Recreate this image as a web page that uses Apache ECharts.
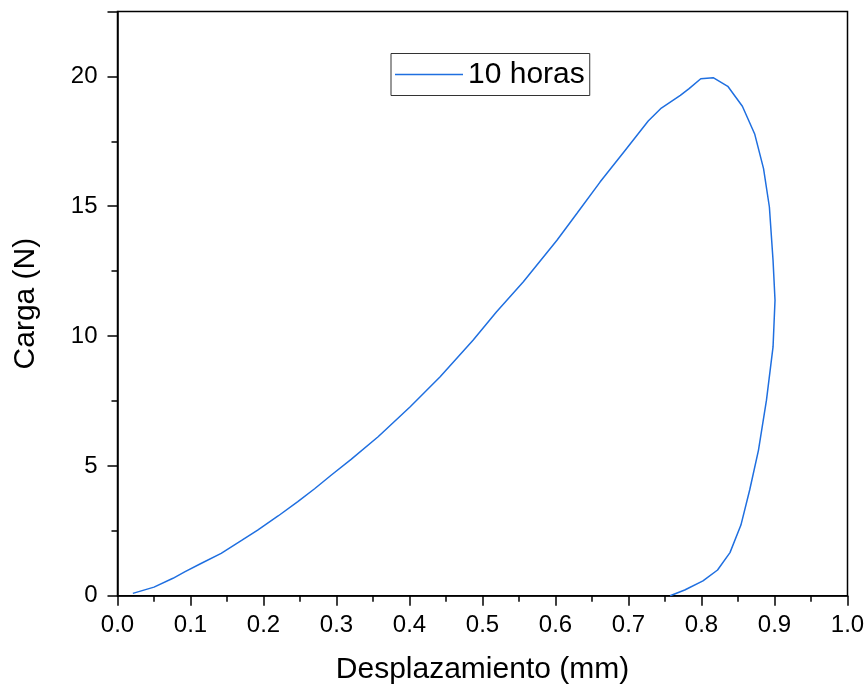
<!DOCTYPE html>
<html><head><meta charset="utf-8">
<script src="https://cdn.jsdelivr.net/npm/echarts@6/dist/echarts.min.js"></script>
<style>html,body{margin:0;padding:0;background:#fff}#c{width:867px;height:688px}</style>
</head><body><div id="c"></div>
<script>
const seriesName = '10 horas';
const xTitle = 'Desplazamiento (mm)';
const yTitle = 'Carga (N)';
const displacement = [0.021,0.05,0.076,0.092,0.115,0.142,0.17,0.192,0.22,0.247,0.27,0.293,0.32,0.357,0.401,0.442,0.487,0.519,0.556,0.602,0.63,0.661,0.695,0.727,0.745,0.771,0.783,0.799,0.816,0.836,0.856,0.873,0.885,0.893,0.898,0.9007,0.898,0.889,0.878,0.866,0.854,0.839,0.822,0.802,0.777,0.757];
const load = [0.09,0.33,0.67,0.92,1.25,1.63,2.13,2.53,3.07,3.62,4.12,4.65,5.25,6.12,7.28,8.43,9.84,10.93,12.09,13.69,14.75,15.93,17.14,18.28,18.78,19.27,19.53,19.91,19.95,19.62,18.85,17.77,16.45,14.97,12.92,11.38,9.58,7.53,5.6,4.07,2.72,1.66,0.99,0.57,0.22,0.0];
const data = displacement.map((x,i)=>[x,load[i]]);
const FONT = 'Liberation Sans, Arial, sans-serif';
const chart = echarts.init(document.getElementById('c'));
chart.setOption({
  animation:false,
  backgroundColor:'#fff',
  grid:{left:117.5,right:19.5,top:11.5,bottom:92.3,show:true,borderColor:'#000',borderWidth:1.5,backgroundColor:'transparent',outerBoundsMode:'none',containLabel:false},
  legend:{
    left:391,top:53.5,data:[{name:seriesName,icon:'rect'}],
    itemWidth:68,itemHeight:1.5,itemGap:13,
    borderColor:'#333',borderWidth:1,padding:[6,5,6,4],
    textStyle:{fontFamily:FONT,fontSize:30,color:'#000'}
  },
  xAxis:{
    type:'value',min:0,max:1,interval:0.1,
    name:xTitle,nameLocation:'middle',nameGap:59,
    nameTextStyle:{fontFamily:FONT,fontSize:30,color:'#000'},
    axisLine:{show:true,onZero:false,lineStyle:{color:'#000',width:1.5}},
    axisTick:{show:true,inside:false,length:10,lineStyle:{color:'#000',width:1.5}},
    minorTick:{show:true,splitNumber:2,length:6,lineStyle:{color:'#000',width:1.5}},
    splitLine:{show:false},
    axisLabel:{fontFamily:FONT,fontSize:24,color:'#000',margin:18,formatter:v=>v.toFixed(1)}
  },
  yAxis:{
    type:'value',min:0,max:22.5,interval:5,
    name:yTitle,nameLocation:'middle',nameGap:77,nameRotate:90,
    nameTextStyle:{fontFamily:FONT,fontSize:30,color:'#000'},
    axisLine:{show:true,onZero:false,lineStyle:{color:'#000',width:1.5}},
    axisTick:{show:true,inside:false,length:10,lineStyle:{color:'#000',width:1.5}},
    minorTick:{show:true,splitNumber:2,length:6,lineStyle:{color:'#000',width:1.5}},
    splitLine:{show:false},
    axisLabel:{fontFamily:FONT,fontSize:24,color:'#000',margin:20,showMaxLabel:false}
  },
  series:[{
    name:seriesName,type:'line',data:data,showSymbol:false,symbol:'none',smooth:false,
    lineStyle:{color:'#1f6fe0',width:1.5},itemStyle:{color:'#1f6fe0'}
  }]
});
</script></body></html>
